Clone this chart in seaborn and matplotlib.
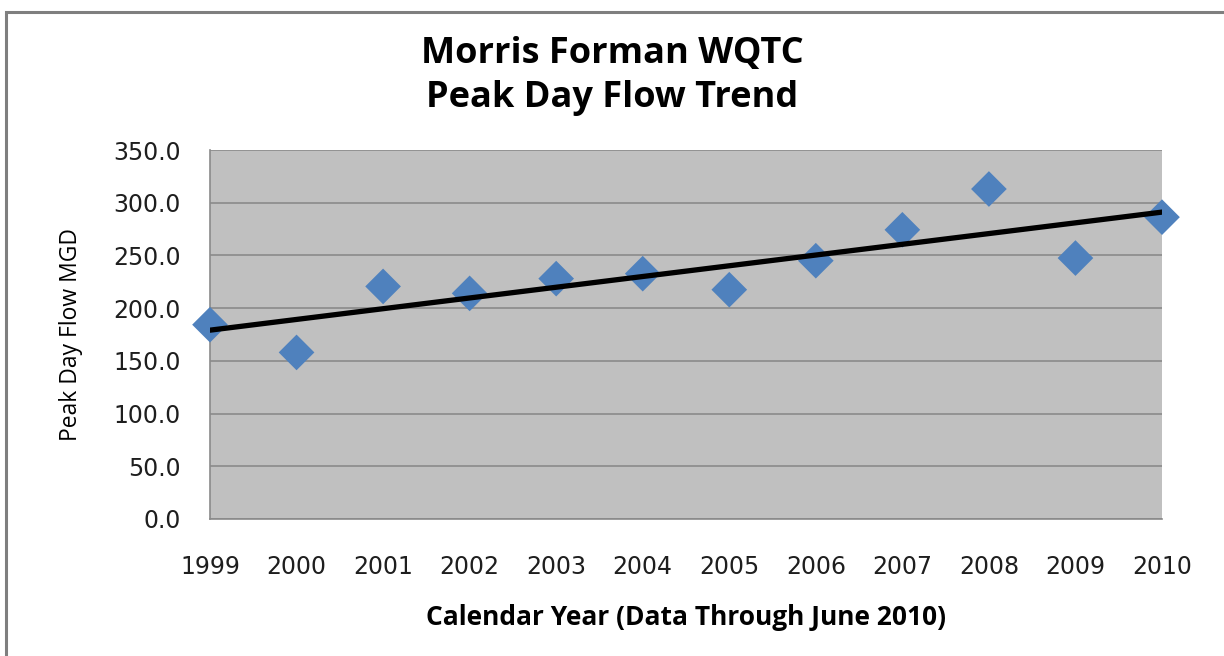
import matplotlib
matplotlib.use("Agg")
import matplotlib.pyplot as plt
import seaborn as sns
import numpy as np
import pandas as pd
from matplotlib.patches import Rectangle

# Peak day flow per calendar year (MGD)
years = [1999, 2000, 2001, 2002, 2003, 2004, 2005, 2006, 2007, 2008, 2009, 2010]
peak_flow = [184.3, 158.0, 220.6, 214.0, 228.0, 232.7, 217.5, 245.0, 274.3, 313.0, 247.5, 286.3]
y_ticks = [0, 50, 100, 150, 200, 250, 300, 350]

df = pd.DataFrame({"year": years, "flow": peak_flow})

sns.set_style("white")
plt.rcParams['font.family'] = ['DejaVu Sans']
plt.rcParams['text.color'] = 'black'
plt.rcParams['axes.labelcolor'] = 'black'

fig = plt.figure(figsize=(12.24, 6.56), dpi=100)
ax = fig.add_axes([210 / 1224, 1 - 519 / 656, (1162 - 210) / 1224, (519 - 150) / 656])
ax.set_facecolor("#c0c0c0")

# outer chart frame (left and top edges show)
fig.add_artist(Rectangle((6 / 1224, -0.05), 1.1, 1 - 12 / 656 + 0.05, transform=fig.transFigure,
                         fill=False, edgecolor="#7f7f7f", linewidth=2.2))

# scatter points then the linear trend line on top
sns.scatterplot(data=df, x="year", y="flow", marker="D", s=330, color="#4f81bd",
                edgecolor="none", ax=ax, clip_on=False, zorder=3)
sns.regplot(data=df, x="year", y="flow", scatter=False, ci=None, truncate=True,
            color="black", line_kws={"linewidth": 3.8, "zorder": 4}, ax=ax)

ax.set_xlim(1999, 2010)
ax.set_ylim(0, 350)
ax.set_xticks(years)
ax.set_yticks(y_ticks)
ax.set_yticklabels([f"{v:.1f}" for v in y_ticks])
ax.grid(axis="y", color="#8a8a8a", linewidth=1.2)
ax.set_axisbelow(True)

for side in ["top", "right"]:
    ax.spines[side].set_visible(False)
for side in ["left", "bottom"]:
    ax.spines[side].set_color("#8a8a8a")
    ax.spines[side].set_linewidth(1.2)

ax.tick_params(axis="both", which="major", direction="out", width=1.2,
               color="#8a8a8a", labelsize=17, labelcolor="#1e1e1e")
ax.tick_params(axis="x", length=6, pad=20)
ax.tick_params(axis="y", length=7, pad=14)

ax.set_xlabel("Calendar Year (Data Through June 2010)", fontsize=19, fontweight="bold",
              family="Open Sans", labelpad=18)
ax.set_ylabel("Peak Day Flow MGD", fontsize=16.5, family="Open Sans", labelpad=22)

fig.text(0.5, 1 - 76 / 656, "Morris Forman WQTC\nPeak Day Flow Trend", ha="center", va="center",
         fontsize=26, fontweight="bold", family="Open Sans", linespacing=1.3)

fig.savefig("out.png", dpi=100, facecolor="white")
